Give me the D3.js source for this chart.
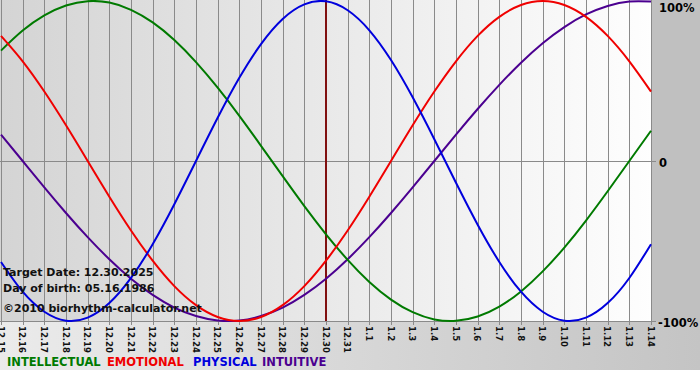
<!DOCTYPE html>
<html><head><meta charset="utf-8">
<script src="https://cdn.jsdelivr.net/npm/d3@7"></script>
<style>html,body{margin:0;padding:0;background:#fff;}svg{display:block;}</style>
</head><body>
<svg id="c" width="700" height="380"></svg>
<script>
const dayLabels = ["12.15","12.16","12.17","12.18","12.19","12.20","12.21","12.22","12.23","12.24","12.25","12.26","12.27","12.28","12.29","12.30","12.31","1.1","1.2","1.3","1.4","1.5","1.6","1.7","1.8","1.9","1.10","1.11","1.12","1.13","1.14"];
const intellectual = [0.690,0.815,0.910,0.972,0.999,0.990,0.945,0.866,0.756,0.618,0.458,0.282,0.095,-0.095,-0.282,-0.458,-0.618,-0.756,-0.866,-0.945,-0.990,-0.999,-0.972,-0.910,-0.815,-0.690,-0.541,-0.372,-0.189,0,0.189];
const emotional = [0.782,0.623,0.434,0.223,0,-0.223,-0.434,-0.623,-0.782,-0.901,-0.975,-1,-0.975,-0.901,-0.782,-0.623,-0.434,-0.223,0,0.223,0.434,0.623,0.782,0.901,0.975,1,0.975,0.901,0.782,0.623,0.434];
const physical = [-0.631,-0.817,-0.942,-0.998,-0.979,-0.888,-0.731,-0.520,-0.270,0,0.270,0.520,0.731,0.888,0.979,0.998,0.942,0.817,0.631,0.398,0.136,-0.136,-0.398,-0.631,-0.817,-0.942,-0.998,-0.979,-0.888,-0.731,-0.520];
const intuitive = [0.165,0,-0.165,-0.325,-0.476,-0.614,-0.736,-0.837,-0.916,-0.969,-0.997,-0.997,-0.969,-0.916,-0.837,-0.736,-0.614,-0.476,-0.325,-0.165,0,0.165,0.325,0.476,0.614,0.736,0.837,0.916,0.969,0.997,0.997];
const seriesNames = ["INTELLECTUAL","EMOTIONAL","PHYSICAL","INTUITIVE"];
const seriesColors = ["#007a00","#f00000","#0000dd","#4b0090"];
const yTickValues = [1,0,-1];
const yTickLabels = ["100%","0","-100%"];
const targetLabel = "12.30";
const infoLines = ["Target Date: 12.30.2025","Day of birth: 05.16.1986","©2010 biorhythm-calculator.net"];

const svg = d3.select("#c");
const W = 700, H = 380;
const x = d3.scalePoint().domain(dayLabels).range([1, 651]);
const y = d3.scaleLinear().domain([-1, 1]).range([321, 1]);

const defs = svg.append("defs");
const g1 = defs.append("linearGradient").attr("id","plotBg").attr("x1","0").attr("x2","1").attr("y1","0").attr("y2","0");
g1.append("stop").attr("offset","0").attr("stop-color","#d4d4d4");
g1.append("stop").attr("offset","1").attr("stop-color","#fefefe");
const g2 = defs.append("linearGradient").attr("id","botBg").attr("x1","0").attr("x2","1").attr("y1","0").attr("y2","0");
g2.append("stop").attr("offset","0").attr("stop-color","#ebebeb");
g2.append("stop").attr("offset","1").attr("stop-color","#c4c4c4");

// backgrounds
svg.append("rect").attr("x",0).attr("y",0).attr("width",W).attr("height",H).attr("fill","#ffffff");
svg.append("rect").attr("x",0).attr("y",321).attr("width",W).attr("height",49).attr("fill","url(#botBg)");
svg.append("rect").attr("x",652).attr("y",0).attr("width",48).attr("height",322).attr("fill","#c0c0c0");
svg.append("rect").attr("x",0).attr("y",0).attr("width",652).attr("height",321).attr("fill","url(#plotBg)");

// vertical grid lines + ticks
svg.append("g").selectAll("line").data(dayLabels).join("line")
  .attr("x1", d => Math.round(x(d)) + 0.5).attr("x2", d => Math.round(x(d)) + 0.5)
  .attr("y1", 0).attr("y2", 325)
  .attr("stroke","#8a8a8a").attr("stroke-width",1);
// horizontal lines
svg.append("g").selectAll("line").data(yTickValues.slice(1)).join("line")
  .attr("x1",0).attr("x2",656)
  .attr("y1", d => Math.round(y(d)) + 0.5).attr("y2", d => Math.round(y(d)) + 0.5)
  .attr("stroke","#8a8a8a").attr("stroke-width",1);

// y labels
const yLabOff = [11, 6, 6];
svg.append("g").selectAll("text").data(yTickValues).join("text")
  .attr("x", (d,i) => i === 2 ? 658 : 659)
  .attr("y", (d,i) => y(d) + yLabOff[i])
  .attr("font-family","DejaVu Sans").attr("font-weight","bold").attr("font-size", 11.5)
  .attr("fill","#000")
  .text((d,i) => yTickLabels[i]);

// x labels rotated
svg.append("g").selectAll("text").data(dayLabels).join("text")
  .attr("transform", d => `translate(${x(d) - 3.5},326) rotate(90)`)
  .attr("font-family","DejaVu Sans").attr("font-size", 8.5).attr("font-weight","bold")
  .attr("fill","#111")
  .attr("x",0).attr("y",0)
  .text(d => d);

// target line
svg.append("line")
  .attr("x1", x(targetLabel)).attr("x2", x(targetLabel))
  .attr("y1", 0).attr("y2", 321)
  .attr("stroke","#801010").attr("stroke-width",2);

// series lines
const allSeries = [intellectual, emotional, physical, intuitive];
const line = d3.line().x((d,i) => x(dayLabels[i])).y(d => y(d)).curve(d3.curveNatural);
const clip = defs.append("clipPath").attr("id","pc");
clip.append("rect").attr("x",0).attr("y",-1).attr("width",652).attr("height",324);
const lg = svg.append("g").attr("clip-path","url(#pc)");
[3,0,1,2].forEach(k => {
  lg.append("path").datum(allSeries[k]).attr("d", line)
    .attr("fill","none").attr("stroke", seriesColors[k]).attr("stroke-width",2);
});

// info text
const infoY = [276, 292, 312];
svg.append("g").selectAll("text").data(infoLines).join("text")
  .attr("x", 3).attr("y", (d,i) => infoY[i])
  .attr("font-family","DejaVu Sans").attr("font-weight","bold").attr("font-size", 11)
  .attr("fill","#111")
  .text(d => d);

// legend
const legX = [7, 107, 193, 262];
svg.append("g").selectAll("text").data(seriesNames).join("text")
  .attr("x", (d,i) => legX[i]).attr("y", 366)
  .attr("font-family","DejaVu Sans").attr("font-weight","bold").attr("font-size", 11.5)
  .attr("fill", (d,i) => seriesColors[i])
  .text(d => d);
</script>
</body></html>
